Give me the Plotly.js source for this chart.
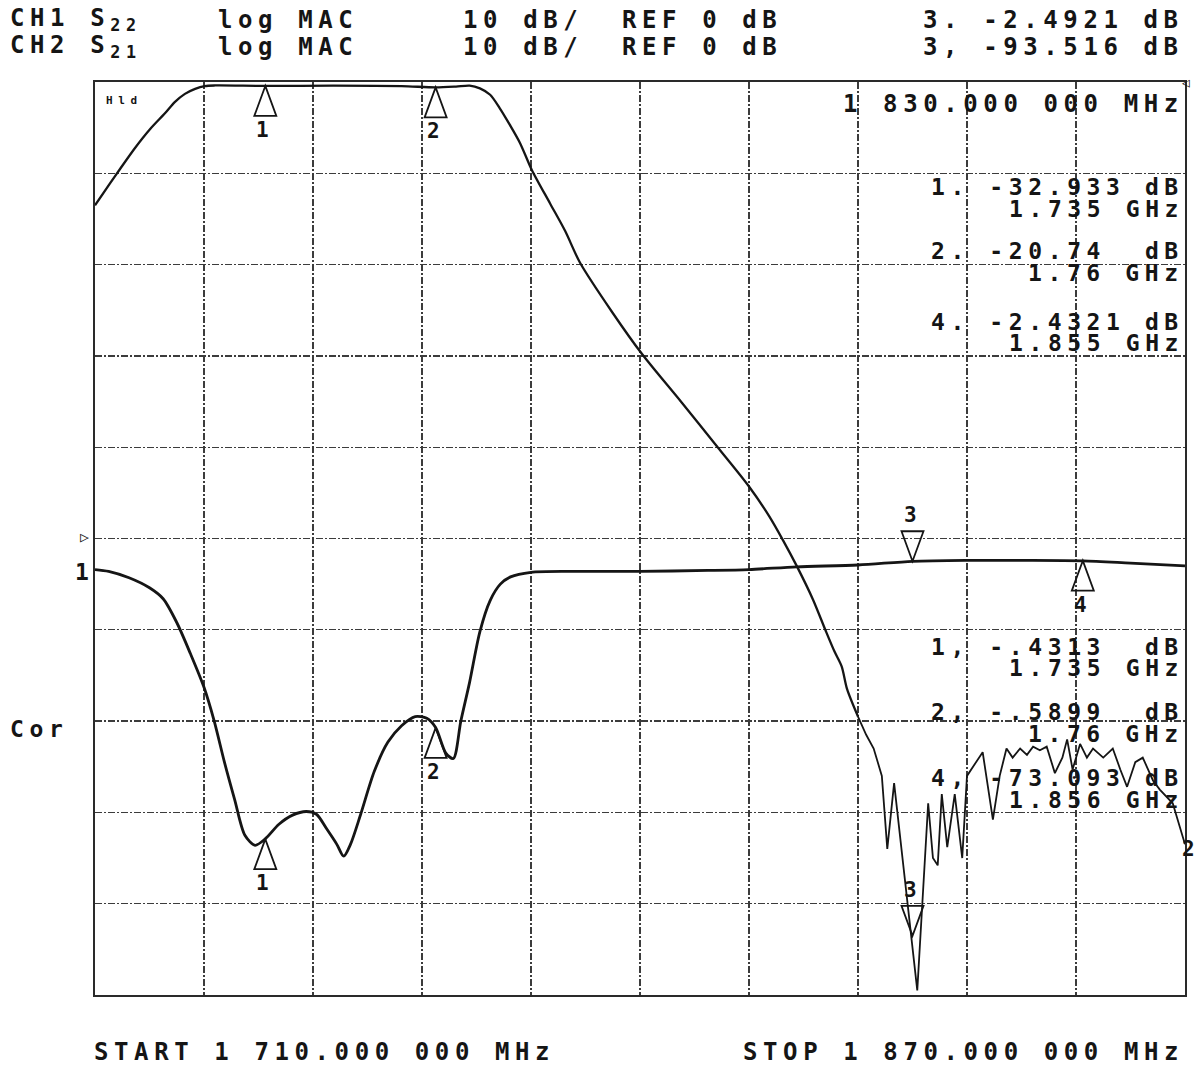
<!DOCTYPE html>
<html>
<head>
<meta charset="utf-8">
<script src="https://cdn.plot.ly/plotly-3.0.1.min.js"></script>
<style>
  html, body { margin: 0; padding: 0; background: #ffffff; }
  #chart { width: 1199px; height: 1072px; }
  .annotation-text { letter-spacing: 5.6px; }
</style>
</head>
<body>
<div id="chart"></div>
<script>
// Frequency axis: START 1710 MHz, STOP 1870 MHz
const freqStart = 1710;
const freqStop = 1870;

// CH2 S21 (log MAG, REF 0 dB at top) - smooth filter response
const s21Freq = [1710, 1712.2, 1713.7, 1715.9, 1718.1, 1720.3, 1721.7, 1723.2, 1724.7, 1726.1, 1727.6, 1735, 1745, 1755, 1760, 1763, 1765, 1766.5, 1768, 1769.4, 1770.9, 1772.4, 1774.1, 1776.8, 1779, 1781.2, 1786, 1790.3, 1796, 1801.4, 1806, 1809, 1811, 1813, 1815.4, 1817.2, 1818.5, 1819.6, 1820.4, 1822];
const s21dB = [-13.5, -11.1, -9.5, -7.2, -5.15, -3.4, -2.2, -1.3, -0.75, -0.45, -0.38, -0.43, -0.4, -0.45, -0.59, -0.5, -0.4, -0.7, -1.4, -2.85, -4.7, -6.7, -9.6, -13.3, -16.3, -19.8, -25.3, -29.8, -35, -40, -44.3, -47.6, -50.2, -53, -56.7, -60, -62.3, -64, -66.5, -69.5];
// CH2 S21 noise floor region
const s21NoiseFreq = [1822, 1823.2, 1824.3, 1825.5, 1826.3, 1827.3, 1830.7, 1831.4, 1832.3, 1833, 1833.7, 1834.3, 1835.1, 1836.2, 1837.3, 1838, 1838.9, 1840.3, 1841.8, 1842.8, 1843.8, 1844.7, 1845.8, 1846.8, 1847.7, 1848.7, 1849.7, 1850.9, 1852, 1852.7, 1853.5, 1854.6, 1855.6, 1856.5, 1858, 1859.4, 1860.5, 1861.5, 1862.7, 1863.8, 1865.3, 1866.3, 1868.2, 1868.8, 1870];
const s21NoisedB = [-69.5, -71.5, -73, -76, -84, -76.8, -99.5, -90, -79, -85, -85.8, -78, -83.8, -78, -85, -76, -75, -73.4, -80.8, -76, -73, -74, -73, -73.7, -72.8, -73.2, -72.8, -75.7, -74, -72, -75.3, -72.5, -74, -73, -74, -73, -75.3, -77.2, -74.5, -74, -76.5, -77.5, -79, -80.5, -83.5];

// CH1 S22 (log MAG, REF 0 dB at centre line)
const s22Freq = [1710, 1712, 1715, 1718, 1720, 1722, 1724, 1726, 1727.5, 1729, 1730.5, 1732, 1733.5, 1735, 1737, 1739, 1741, 1742.5, 1744, 1745.5, 1746.5, 1747.5, 1749, 1751, 1753, 1755, 1757, 1758.7, 1760, 1761.5, 1762.6, 1763.7, 1765, 1766.5, 1768, 1769.5, 1771, 1774, 1780, 1790, 1800, 1806, 1813, 1822, 1830, 1838, 1846, 1855, 1862, 1870];
const s22dB = [-3.4, -3.6, -4.3, -5.4, -6.6, -9.2, -12.6, -16.3, -20.0, -24.5, -28.6, -32.5, -33.6, -32.9, -31.3, -30.3, -29.9, -30.2, -31.8, -33.5, -34.8, -33.5, -30.2, -25.5, -22.3, -20.5, -19.5, -19.7, -20.7, -23.5, -24.1, -20.0, -15.7, -10.2, -6.8, -5.0, -4.2, -3.7, -3.6, -3.6, -3.5, -3.4, -3.1, -2.9, -2.5, -2.4, -2.4, -2.45, -2.7, -3.0];

// Marker readouts
const markerIds = ['1', '2', '3', '4'];
const markerFreq = [1735, 1760, 1830, 1855];
const ch1MarkerdB = [-32.933, -20.74, -2.4921, -2.4321];
const ch2MarkerdB = [-0.4313, -0.5899, -93.516, -73.093];

// Text labels
const headerCh1 = ['CH1 S<sub>22</sub>', 'log MAC', '10 dB/', 'REF 0 dB', '3. -2.4921 dB'];
const headerCh2 = ['CH2 S<sub>21</sub>', 'log MAC', '10 dB/', 'REF 0 dB', '3, -93.516 dB'];
const ch1Readout = ['1. -32.933 dB', '1.735 GHz', '2. -20.74  dB', '1.76 GHz', '4. -2.4321 dB', '1.855 GHz'];
const ch2Readout = ['1, -.4313  dB', '1.735 GHz', '2, -.5899  dB', '1.76 GHz', '4, -73.093 dB', '1.856 GHz'];
const centerFreqText = '1 830.000 000 MHz';
const startText = 'START 1 710.000 000 MHz';
const stopText = 'STOP 1 870.000 000 MHz';

// ---- Layout helpers ----
const W = 1199, H = 1072;
const L = 95, R = 1185, T = 82, B = 995;
const px = x => (x - L) / (R - L);
const py = y => (B - y) / (B - T);
const FONT = 'DejaVu Sans Mono, Liberation Mono, monospace';
const INK = '#151515';

function txt(text, x, y, anchor, size, weight) {
  return {
    text: text, xref: 'paper', yref: 'paper', x: px(x), y: py(y),
    xanchor: anchor || 'left', yanchor: 'middle', showarrow: false,
    font: { family: FONT, size: size || 24, color: INK, weight: weight || 'bold' }
  };
}

const annotations = [];
const hdrX = [8, 216, 461, 620];
headerCh1.forEach((t, i) => annotations.push(i < 4 ? txt(t, hdrX[i], 20) : txt(t, 1186, 20, 'right')));
headerCh2.forEach((t, i) => annotations.push(i < 4 ? txt(t, hdrX[i], 47) : txt(t, 1186, 47, 'right')));

annotations.push(txt(centerFreqText, 1186, 104, 'right'));
const ch1Y = [187, 209, 251, 273, 322, 343];
ch1Readout.forEach((t, i) => annotations.push(txt(t, 1186, ch1Y[i], 'right', 23)));
const ch2Y = [647, 668, 712, 734, 778, 800];
ch2Readout.forEach((t, i) => annotations.push(txt(t, 1186, ch2Y[i], 'right', 23)));

annotations.push(txt(startText, 92, 1052, 'left'));
annotations.push(txt(stopText, 1186, 1052, 'right'));
annotations.push(txt('Cor', 8, 729, 'left', 23));
annotations.push(txt('1', 96, 572, 'right', 23));
annotations.push(txt('2', 1180, 849, 'left', 21));
annotations.push(txt('\u25B7', 97, 537, 'right', 15, 'normal'));
annotations.push(txt('\u25C1', 1180, 82, 'left', 13, 'normal'));
annotations.push(txt('Hld', 104, 101, 'left', 11));

// Marker triangles (shapes anchored on the marker data points) and their labels
const shapes = [];
const up = 'M0,0 L-11,-30 L11,-30 Z';
const down = 'M0,0 L-11,30 L11,30 Z';
function addMarker(f, v, yref, pointUp, label) {
  shapes.push({
    type: 'path', xref: 'x', yref: yref, xsizemode: 'pixel', ysizemode: 'pixel',
    xanchor: f, yanchor: v, path: pointUp ? up : down,
    line: { color: INK, width: 1.8 }, fillcolor: 'rgba(0,0,0,0)'
  });
  annotations.push({
    text: label, xref: 'x', yref: yref, x: f, y: v, yshift: pointUp ? -44 : 46,
    xanchor: 'center', yanchor: 'middle', showarrow: false,
    font: { family: FONT, size: 21, color: INK, weight: 'bold' }
  });
}
// CH1 (S22) markers: 1,2,4 point up below trace, 3 points down above trace
[0, 1, 3].forEach(i => addMarker(markerFreq[i], ch1MarkerdB[i], 'y2', true, markerIds[i]));
addMarker(markerFreq[2], ch1MarkerdB[2], 'y2', false, markerIds[2]);
// CH2 (S21) markers
[0, 1].forEach(i => addMarker(markerFreq[i], ch2MarkerdB[i], 'y', true, markerIds[i]));
addMarker(markerFreq[2], ch2MarkerdB[2], 'y', false, markerIds[2]);

const traces = [
  { x: s21Freq, y: s21dB, xaxis: 'x', yaxis: 'y', mode: 'lines', name: 'CH2 S21',
    line: { color: INK, width: 2.3, shape: 'spline', smoothing: 0.8 }, hoverinfo: 'skip' },
  { x: s21NoiseFreq, y: s21NoisedB, xaxis: 'x', yaxis: 'y', mode: 'lines', name: 'CH2 S21 floor',
    line: { color: INK, width: 1.8 }, hoverinfo: 'skip' },
  { x: s22Freq, y: s22dB, xaxis: 'x', yaxis: 'y2', mode: 'lines', name: 'CH1 S22',
    line: { color: INK, width: 2.8, shape: 'spline', smoothing: 0.8 }, hoverinfo: 'skip' }
];

const gridDash = '7px,2px,2px,2px';
const layout = {
  width: W, height: H,
  margin: { l: L, r: W - R, t: T, b: H - B, pad: 0 },
  paper_bgcolor: '#ffffff', plot_bgcolor: '#ffffff',
  showlegend: false,
  xaxis: {
    range: [freqStart, freqStop], tick0: freqStart, dtick: (freqStop - freqStart) / 10,
    showgrid: true, gridcolor: '#3c3c3c', gridwidth: 1.4, griddash: gridDash,
    showticklabels: false, ticks: '', zeroline: false,
    showline: true, mirror: true, linecolor: '#2a2a2a', linewidth: 1.6
  },
  yaxis: {
    range: [-100, 0], tick0: 0, dtick: 10,
    showgrid: true, gridcolor: '#3c3c3c', gridwidth: 1.4, griddash: gridDash,
    showticklabels: false, ticks: '', zeroline: false,
    showline: true, mirror: true, linecolor: '#2a2a2a', linewidth: 1.6
  },
  yaxis2: {
    range: [-50, 50], overlaying: 'y', side: 'right',
    showgrid: false, showticklabels: false, ticks: '', zeroline: false, showline: false
  },
  annotations: annotations,
  shapes: shapes
};

Plotly.newPlot('chart', traces, layout, { staticPlot: true, displayModeBar: false });
</script>
</body>
</html>
